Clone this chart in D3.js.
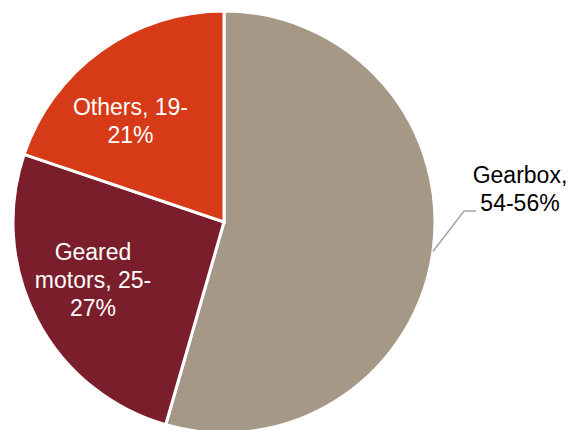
<!DOCTYPE html>
<html>
<head>
<meta charset="utf-8">
<script src="https://cdn.jsdelivr.net/npm/d3@7"></script>
<style>
  html, body { margin: 0; padding: 0; background: #fff; }
  svg { display: block; }
  text { font-family: "Liberation Sans", Arial, sans-serif; }
</style>
</head>
<body>
<svg id="chart" width="571" height="430"></svg>
<script>
// Data (midpoints of the ranges shown in labels)
const categories = ["Gearbox", "Geared motors", "Others"];
const values = [55, 26, 20];
const labelLines = [
  ["Gearbox,", "54-56%"],
  ["Geared", "motors, 25-", "27%"],
  ["Others, 19-", "21%"]
];
const colors = ["#A69886", "#7A1E2B", "#D63A17"];

const W = 571, H = 430;
const cx = 224, cy = 222, R = 211;
const fontSize = 23, lineH = 27.6;

const svg = d3.select("#chart");
const g = svg.append("g").attr("transform", `translate(${cx},${cy})`);

const data = categories.map((c, i) => ({ name: c, value: values[i], lines: labelLines[i], color: colors[i] }));
const pie = d3.pie().sort(null).value(d => d.value);
const arcs = pie(data);
const arc = d3.arc().innerRadius(0).outerRadius(R);

g.selectAll("path.slice")
  .data(arcs)
  .join("path")
  .attr("class", "slice")
  .attr("d", arc)
  .attr("fill", d => d.data.color)
  .attr("stroke", "#fff")
  .attr("stroke-width", 3)
  .attr("stroke-linejoin", "miter");

// Inside labels for Geared motors and Others
const insidePos = {
  "Geared motors": [93 - cx, 288 - cy],
  "Others": [130.5 - cx, 115 - cy]
};
const labelArc = d3.arc().innerRadius(R * 0.62).outerRadius(R * 0.62);

arcs.slice(1).forEach(a => {
  const [px, py] = insidePos[a.data.name];
  const n = a.data.lines.length;
  const midIdx = a.data.name === "Others" ? 0 : 1;
  const t = g.append("text")
    .attr("text-anchor", "middle")
    .attr("fill", "#fff")
    .attr("font-size", fontSize);
  a.data.lines.forEach((ln, i) => {
    t.append("tspan")
      .attr("x", px)
      .attr("y", py + (i - midIdx) * lineH)
      .text(ln);
  });
});

// Outside label with leader line for Gearbox
const gb = arcs[0];
const midA = (gb.startAngle + gb.endAngle) / 2;
const sx = Math.sin(midA) * R, sy = -Math.cos(midA) * R;
const ex = 464 - cx, ey = 211 - cy;
const hx = 476 - cx;
g.append("polyline")
  .attr("points", [[sx, sy], [ex, ey], [hx, ey]].map(p => p.join(",")).join(" "))
  .attr("fill", "none")
  .attr("stroke", "#A6A6A6")
  .attr("stroke-width", 1.5);

const gt = g.append("text")
  .attr("text-anchor", "middle")
  .attr("fill", "#000")
  .attr("font-size", fontSize);
gb.data.lines.forEach((ln, i) => {
  gt.append("tspan")
    .attr("x", 520 - cx)
    .attr("y", 183 - cy + i * lineH)
    .text(ln);
});
</script>
</body>
</html>
